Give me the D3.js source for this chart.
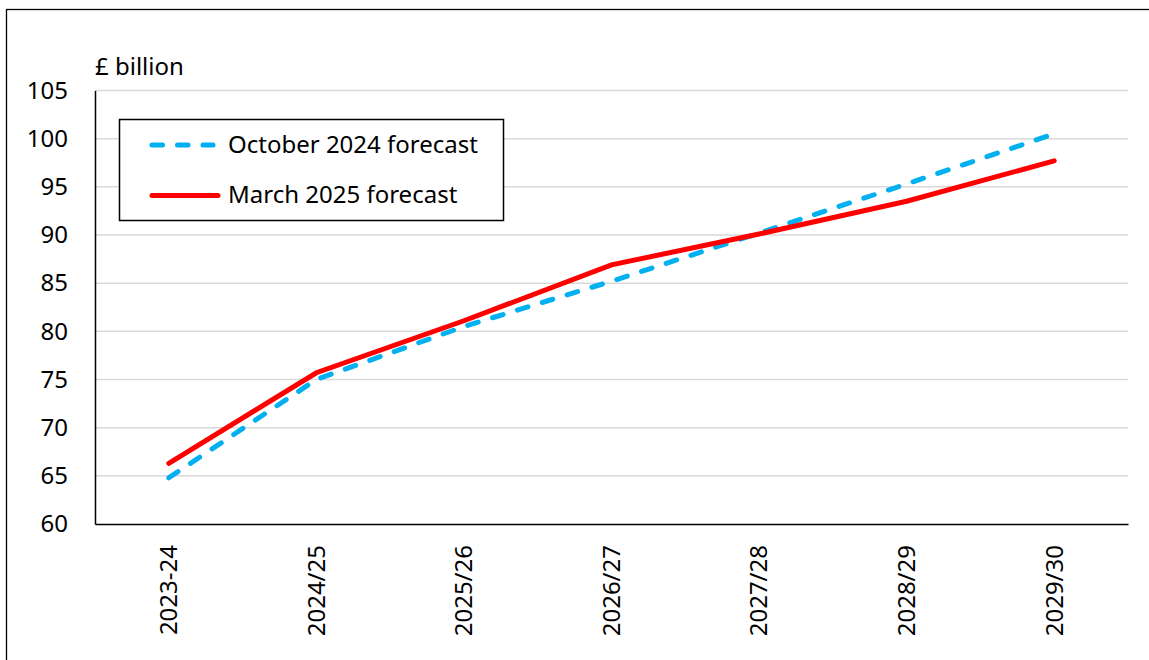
<!DOCTYPE html>
<html><head><meta charset="utf-8">
<script src="https://cdn.jsdelivr.net/npm/d3@7"></script>
<style>body{margin:0;background:#fff}svg{display:block}</style>
</head><body>
<svg id="c" width="1149" height="660"></svg>
<script>
const categories = ["2023-24","2024/25","2025/26","2026/27","2027/28","2028/29","2029/30"];
const october2024 = [64.8, 75.0, 80.5, 85.2, 90.2, 95.3, 100.5];
const march2025 = [66.3, 75.7, 81.1, 86.9, 90.1, 93.5, 97.7];
const yTicks = [60,65,70,75,80,85,90,95,100,105];
const seriesNames = ["October 2024 forecast","March 2025 forecast"];
const unitLabel = "£ billion";

const svg = d3.select("#c");
const font = "'Noto Sans', sans-serif";
const L = 95, R = 1128, T = 90.5, B = 524;

svg.append("rect").attr("x",6.5).attr("y",9.5).attr("width",1160).attr("height",700)
  .attr("fill","none").attr("stroke","#000").attr("stroke-width",1.3);

const x = d3.scaleBand().domain(categories).range([L,R]);
const y = d3.scaleLinear().domain([60,105]).range([B,T]);

// gridlines
svg.append("g").selectAll("line").data(yTicks.filter(d=>d>60)).join("line")
  .attr("x1",L).attr("x2",R).attr("y1",d=>y(d)).attr("y2",d=>y(d))
  .attr("stroke","#d9d9d9").attr("stroke-width",1.5);

// y axis
const ya = svg.append("g").attr("transform",`translate(${L},0)`)
  .call(d3.axisLeft(y).tickValues(yTicks).tickSize(0).tickPadding(27));
ya.select(".domain").attr("stroke","#000").attr("stroke-width",1.5);
ya.selectAll("text").attr("font-family",font).attr("font-size",24).attr("fill","#000");

// x axis
const xa = svg.append("g").attr("transform",`translate(0,${B})`)
  .call(d3.axisBottom(x).tickSize(0).tickSizeOuter(0));
xa.select(".domain").attr("stroke","#000").attr("stroke-width",1.5);
xa.selectAll("text").attr("font-family",font).attr("font-size",24).attr("fill","#000")
  .attr("transform","rotate(-90)").attr("text-anchor","end").attr("dy","0.35em")
  .attr("x",-21).attr("y",0);

svg.append("text").attr("x",95).attr("y",75).attr("font-family",font).attr("font-size",24)
  .text(unitLabel);

const line = d3.line().x((d,i)=>x(categories[i])+x.bandwidth()/2).y(d=>y(d));
svg.append("path").datum(october2024).attr("d",line).attr("fill","none")
  .attr("stroke","#00b0f0").attr("stroke-width",5).attr("stroke-linecap","round")
  .attr("stroke-dasharray","11,15");
svg.append("path").datum(march2025).attr("d",line).attr("fill","none")
  .attr("stroke","#ff0000").attr("stroke-width",5).attr("stroke-linecap","round");

// legend
const lg = svg.append("g");
lg.append("rect").attr("x",119.5).attr("y",119.5).attr("width",384).attr("height",101)
  .attr("fill","#fff").attr("stroke","#000").attr("stroke-width",1.5);
lg.append("line").attr("x1",152).attr("x2",213).attr("y1",145).attr("y2",145)
  .attr("stroke","#00b0f0").attr("stroke-width",5).attr("stroke-linecap","round")
  .attr("stroke-dasharray","10.5,15");
lg.append("line").attr("x1",152).attr("x2",218).attr("y1",195.5).attr("y2",195.5)
  .attr("stroke","#ff0000").attr("stroke-width",5).attr("stroke-linecap","round");
lg.append("text").attr("x",228).attr("y",153).attr("font-family",font).attr("font-size",24).text(seriesNames[0]);
lg.append("text").attr("x",228).attr("y",203).attr("font-family",font).attr("font-size",24).text(seriesNames[1]);
</script>
</body></html>
